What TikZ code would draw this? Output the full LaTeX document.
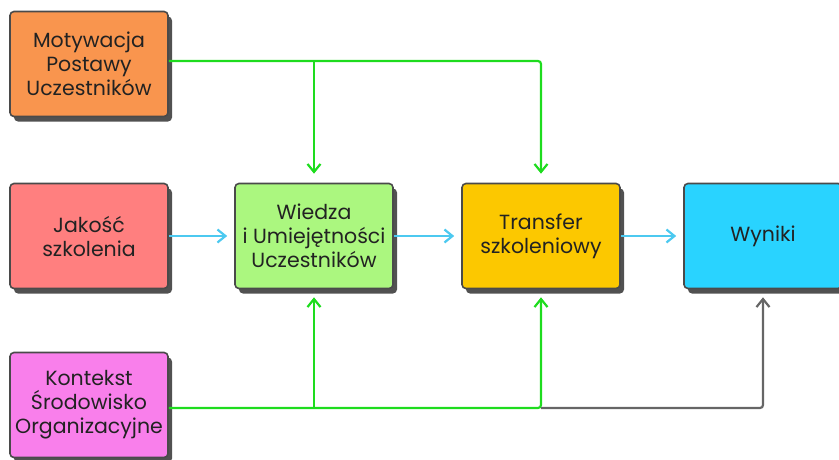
\documentclass[tikz,border=0pt]{standalone}
\usepackage{fontspec}
\setmainfont{Poppins}
\usetikzlibrary{arrows.meta,shadows}

\definecolor{cMotiv}{HTML}{F9954E}
\definecolor{cJakosc}{HTML}{FF7F7F}
\definecolor{cKontekst}{HTML}{F97FEB}
\definecolor{cWiedza}{HTML}{ABF77F}
\definecolor{cTransfer}{HTML}{FCC800}
\definecolor{cWyniki}{HTML}{29D3FF}
\definecolor{lGreen}{HTML}{1EDC1E}
\definecolor{lCyan}{HTML}{4CC9F0}
\definecolor{lGray}{HTML}{666666}
\definecolor{bEdge}{HTML}{4A4A4A}
\definecolor{tDark}{HTML}{222222}

\begin{document}
\begin{tikzpicture}[
  x=1pt, y=-1pt,
  font=\fontsize{20.5}{24}\selectfont,
  box/.style={
    rectangle, rounded corners=4pt,
    draw=bEdge, line width=1.6pt, text=tDark,
    minimum width=158pt, minimum height=105pt,
    align=center, inner sep=2pt,
    drop shadow={shadow xshift=4pt, shadow yshift=-5pt, fill=black!80, opacity=0.85}
  },
  garr/.style={-{Straight Barb[length=8pt,width=13pt]}, line width=2.2pt, lGreen,
    rounded corners=3pt},
  carr/.style={-{Straight Barb[length=8pt,width=13pt]}, line width=2.2pt, lCyan,
    shorten >=7pt},
  darr/.style={-{Straight Barb[length=8pt,width=13pt]}, line width=2.2pt, lGray,
    rounded corners=3pt}
]
\useasboundingbox (0,0) rectangle (839,459);

%% ── Left column ─────────────────────────────────────────────────────
\node[box, fill=cMotiv]    (motiv)    at (89,64)   {Motywacja\\Postawy\\Uczestników};
\node[box, fill=cJakosc]   (jakosc)   at (89,236)  {Jakość\\szkolenia};
\node[box, fill=cKontekst] (kontekst) at (89,405)  {Kontekst\\Środowisko\\Organizacyjne};

%% ── Main row ────────────────────────────────────────────────────────
\node[box, fill=cWiedza]   (wiedza)   at (314,236) {Wiedza\\i Umiejętności\\Uczestników};
\node[box, fill=cTransfer] (transfer) at (541,236) {Transfer\\szkoleniowy};
\node[box, fill=cWyniki]   (wyniki)   at (763,236) {Wyniki};

\draw[carr] (jakosc.east)   -- (wiedza.west);
\draw[carr] (wiedza.east)   -- (transfer.west);
\draw[carr] (transfer.east) -- (wyniki.west);

%% ── Top feed (motivation) ──────────────────────────────────────────
\coordinate (topsplit) at (wiedza.north |- motiv.east);
\draw[garr] ([yshift=3pt]motiv.east) -| ([yshift=9pt]transfer.north);
\draw[garr] ([yshift=3pt]topsplit) -- ([yshift=9pt]wiedza.north);

%% ── Bottom feed (context) ──────────────────────────────────────────
\coordinate (botsplit) at (wiedza.south |- kontekst.east);
\coordinate (botturn)  at (transfer.south |- kontekst.east);
\draw[garr] ([yshift=-3pt]kontekst.east) -| ([yshift=-8pt]transfer.south);
\draw[garr] ([yshift=-3pt]botsplit) -- ([yshift=-8pt]wiedza.south);
\draw[darr] ([yshift=-3pt]botturn) -| ([yshift=-8pt]wyniki.south);

\end{tikzpicture}
\end{document}
